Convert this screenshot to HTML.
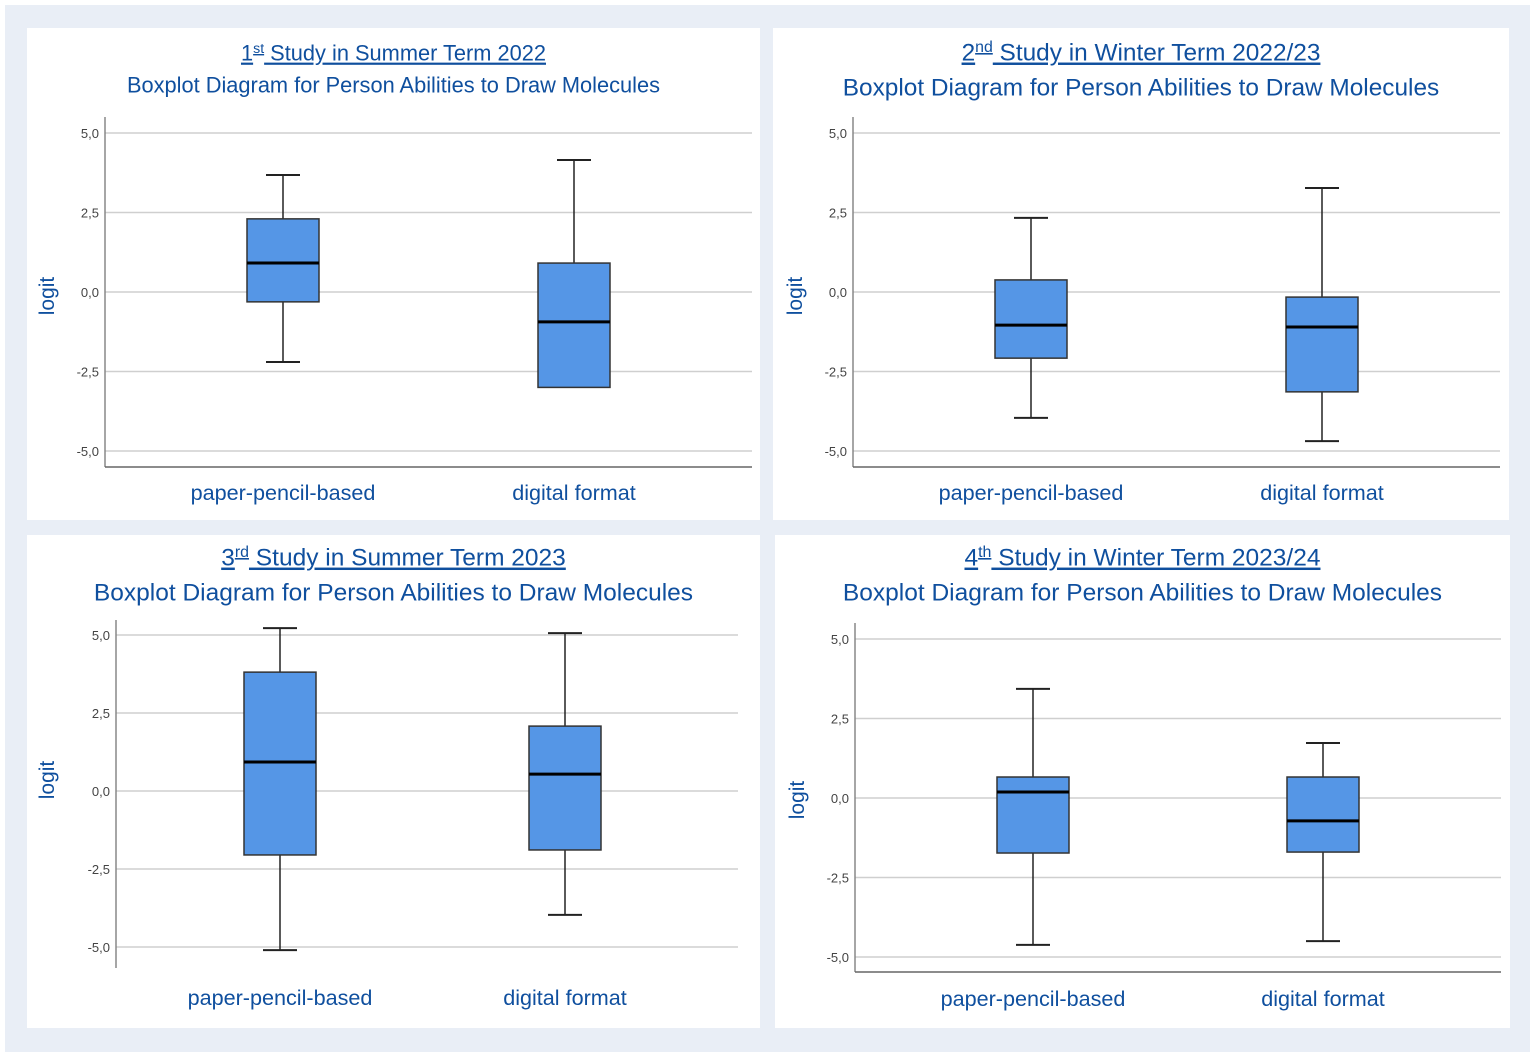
<!DOCTYPE html>
<html><head><meta charset="utf-8"><style>
html,body{margin:0;padding:0;background:#fff}
#root{position:absolute;left:5px;top:5px;width:1525px;height:1047px;background:#e9eef6}
svg{position:absolute;left:0;top:0}
text{font-family:"Liberation Sans",Arial,sans-serif}
</style></head><body>
<div id="root"></div>
<svg id="chart" width="1535" height="1057"></svg>
<script>
const categories = ["paper-pencil-based", "digital format"];
const tickValues = [5, 2.5, 0, -2.5, -5];
const tickLabels = ["5,0", "2,5", "0,0", "-2,5", "-5,0"];
const studyNums = ["1", "2", "3", "4"];
const studySups = ["st", "nd", "rd", "th"];
const studyTerms = ["Summer Term 2022", "Winter Term 2022/23", "Summer Term 2023", "Winter Term 2023/24"];
// [min, q1, median, q3, max] per category
const study1 = [[-2.2, -0.31, 0.91, 2.3, 3.68], [-3.0, -3.0, -0.94, 0.91, 4.15]];
const study2 = [[-3.96, -2.08, -1.04, 0.38, 2.33], [-4.69, -3.14, -1.1, -0.16, 3.27]];
const study3 = [[-5.1, -2.05, 0.93, 3.81, 5.22], [-3.97, -1.89, 0.54, 2.08, 5.06]];
const study4 = [[-4.62, -1.73, 0.19, 0.66, 3.43], [-4.5, -1.7, -0.72, 0.66, 1.73]];
const studies = [study1, study2, study3, study4];

const layouts = [
 {px:27,py:28,pw:733,ph:492,ax:105,top:117,bot:467,right:752,y5:133,yn5:451,cx:[283,574],t1:53,t2:85,tf:21.8,lab:493,botLine:true,ly:296,lx:47},
 {px:773,py:28,pw:736,ph:492,ax:853,top:117,bot:467,right:1500,y5:133,yn5:451,cx:[1031,1322],t1:52,t2:87,tf:24.4,lab:493,botLine:true,ly:296,lx:795},
 {px:27,py:535,pw:733,ph:493,ax:116,top:620,bot:968,right:738,y5:635,yn5:947,cx:[280,565],t1:557,t2:592,tf:24.5,lab:998,botLine:false,ly:780,lx:47},
 {px:775,py:535,pw:735,ph:493,ax:855,top:623,bot:972,right:1501,y5:639,yn5:957,cx:[1033,1323],t1:557,t2:592,tf:24.5,lab:999,botLine:true,ly:800,lx:797}
];
const NS = "http://www.w3.org/2000/svg";
const svg = document.getElementById('chart');
function mk(tag, attrs, parent, txt){
  const e = document.createElementNS(NS, tag);
  for (const k in attrs) e.setAttribute(k, attrs[k]);
  if (txt !== undefined) e.textContent = txt;
  parent.appendChild(e);
  return e;
}
studies.forEach((data, i) => {
  const L = layouts[i];
  const g = mk('g', {}, svg);
  
  
  const bg = mk('rect', {x:L.px, y:L.py, width:L.pw, height:L.ph, fill:'#fff'}, g);
  
  
  const y = v => L.y5 + (5 - v) * (L.yn5 - L.y5) / 10;
  const midX = L.px + L.pw / 2;
  const t1 = mk('text', {x:midX, y:L.t1 + L.tf*0.35, 'text-anchor':'middle', 'font-size':L.tf, fill:'#0f4f9e', 'text-decoration':'underline'}, g);
  
  
  mk('tspan', {}, t1, studyNums[i]);
  mk('tspan', {dy:-L.tf*0.35, 'font-size':L.tf*0.65}, t1, studySups[i]);
  mk('tspan', {dy:L.tf*0.35}, t1, ' Study in ' + studyTerms[i]);
  const t2 = mk('text', {x:midX, y:L.t2 + L.tf*0.35, 'text-anchor':'middle', 'font-size':L.tf, fill:'#0f4f9e'}, g, 'Boxplot Diagram for Person Abilities to Draw Molecules');
  
  
  tickValues.forEach((v, k) => {
    const gl = mk('line', {x1:L.ax, x2:L.right, y1:y(v), y2:y(v), stroke:'#cfcfcf', 'stroke-width':1.5}, g);
    
    
    const tl = mk('text', {x:L.ax-6, y:y(v)+5, 'text-anchor':'end', 'font-size':13, fill:'#444'}, g, tickLabels[k]);
    
    
  });
  const ya = mk('line', {x1:L.ax, x2:L.ax, y1:L.top, y2:L.bot, stroke:'#888', 'stroke-width':1.5}, g);
  
  
  if (L.botLine) {
    const xa = mk('line', {x1:L.ax, x2:L.right, y1:L.bot, y2:L.bot, stroke:'#666', 'stroke-width':1.5}, g);
    
    
  }
  const yt = mk('text', {x:L.lx, y:L.ly, 'text-anchor':'middle', 'font-size':21, fill:'#0f4f9e', transform:`rotate(-90 ${L.lx} ${L.ly})`, dy:7}, g, 'logit');
  
  
  data.forEach((s, c) => {
    const cx = L.cx[c], hw = 36, cw = 17;
    const bg2 = mk('g', {}, g);
    
    
    mk('line', {x1:cx, x2:cx, y1:y(s[4]), y2:y(s[3]), stroke:'#222', 'stroke-width':1.5}, bg2);
    mk('line', {x1:cx, x2:cx, y1:y(s[1]), y2:y(s[0]), stroke:'#222', 'stroke-width':1.5}, bg2);
    mk('line', {x1:cx-cw, x2:cx+cw, y1:y(s[4]), y2:y(s[4]), stroke:'#222', 'stroke-width':2}, bg2);
    if (s[0] < s[1]) mk('line', {x1:cx-cw, x2:cx+cw, y1:y(s[0]), y2:y(s[0]), stroke:'#222', 'stroke-width':2}, bg2);
    mk('rect', {x:cx-hw, y:y(s[3]), width:hw*2, height:y(s[1])-y(s[3]), fill:'#5596e6', stroke:'#333', 'stroke-width':1.5}, bg2);
    mk('line', {x1:cx-hw, x2:cx+hw, y1:y(s[2]), y2:y(s[2]), stroke:'#000', 'stroke-width':3}, bg2);
    const cl = mk('text', {x:cx, y:L.lab+7, 'text-anchor':'middle', 'font-size':21.6, fill:'#0f4f9e'}, g, categories[c]);
    
    
  });
});
</script>
</body></html>
